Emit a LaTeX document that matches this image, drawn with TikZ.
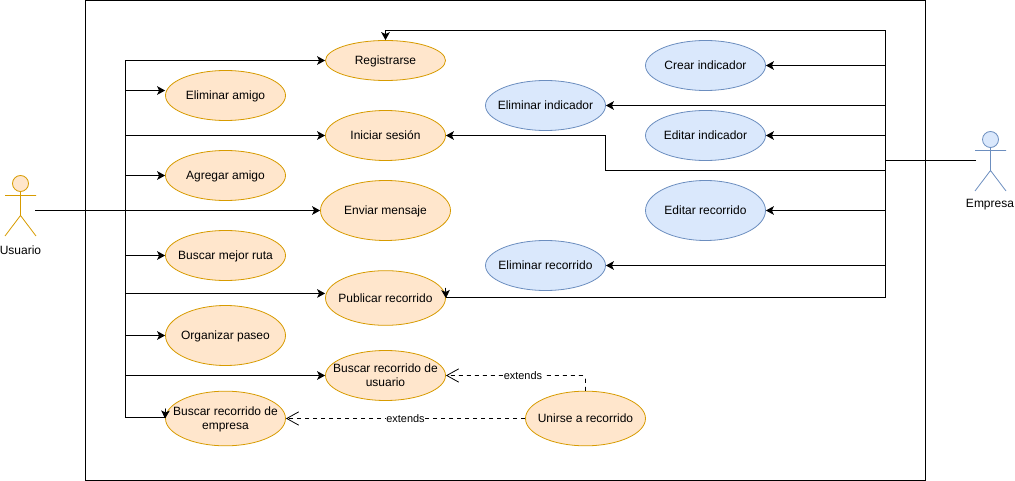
\documentclass[tikz,border=0pt]{standalone}
\usepackage{fontspec}
\setmainfont{Liberation Sans}
\usetikzlibrary{arrows.meta,shapes.geometric}

% Define colors
\definecolor{usofill}{HTML}{FFE6CC}
\definecolor{usoline}{HTML}{D79B00}
\definecolor{empfill}{HTML}{DAE8FC}
\definecolor{empline}{HTML}{6C8EBF}

\tikzset{
  caso/.style={ellipse,draw=usoline,fill=usofill,semithick,align=center,inner xsep=-10pt,inner ysep=0pt,text height=7pt,text depth=1pt,font=\fontsize{9}{10.5}\selectfont},
  casodoble/.style={caso,text height=17.5pt},
  casoemp/.style={caso,draw=empline,fill=empfill},
  flecha/.style={-{Stealth[length=6pt,width=6.5pt,inset=1.5pt]},semithick},
  extiende/.style={-{Straight Barb[length=9pt,width=10pt]},dashed,semithick},
  etiqueta/.style={fill=white,inner sep=0.5pt,font=\fontsize{8.2}{10}\selectfont},
  actorlabel/.style={font=\fontsize{9}{11}\selectfont,inner sep=0pt}
}

\begin{document}
\begin{tikzpicture}[x=0.75pt,y=-0.75pt]
\useasboundingbox (0,0) rectangle (1015,481);

% Frame
\draw[semithick] (85.5,0.5) rectangle (925.5,480.5);

% Usuario
\draw[usoline,fill=usofill,semithick] (20.5,183.5) circle (6pt);
\draw[usoline,semithick] (20.5,191.5) -- (20.5,215.5) (5,195.5) -- (36,195.5) (5,236) -- (20.5,215.5) -- (36,236);
\node[actorlabel] (usuario) at (20.5,250) {Usuario};
\coordinate (usuarioport) at (35,210.5);

% Empresa
\draw[empline,fill=empfill,semithick] (990.5,139.5) circle (6pt);
\draw[empline,semithick] (990.5,147.5) -- (990.5,170.5) (975,150.5) -- (1006,150.5) (975,191) -- (990.5,170.5) -- (1006,191);
\node[actorlabel] (empresa) at (990,205) {Empresa};
\coordinate (empresaport) at (976,160.5);

% Left use cases
\node[caso,minimum width=90pt,minimum height=30pt] (registrarse) at (385.5,60.5) {Registrarse};
\node[caso,minimum width=90pt,minimum height=37.5pt] (eliminaramigo) at (225.5,95.5) {Eliminar amigo};
\node[caso,minimum width=90pt,minimum height=37.5pt] (iniciar) at (385.5,135.5) {Iniciar sesión};
\node[caso,minimum width=90pt,minimum height=37.5pt] (agregar) at (225.5,175.5) {Agregar amigo};
\node[caso,minimum width=97.5pt,minimum height=45pt] (enviar) at (385.5,210.5) {Enviar mensaje};
\node[caso,minimum width=90pt,minimum height=37.5pt] (mejorruta) at (225.5,255.5) {Buscar mejor ruta};
\node[caso,minimum width=90pt,minimum height=41pt] (publicar) at (385.5,298) {Publicar recorrido};
\node[caso,minimum width=90pt,minimum height=45pt] (organizar) at (225.5,335.5) {Organizar paseo};
\node[casodoble,minimum width=90pt,minimum height=37.5pt] (buscarusuario) at (385.5,375.5) {Buscar recorrido de\\usuario};
\node[casodoble,minimum width=90pt,minimum height=41pt] (buscarempresa) at (225.5,418.5) {Buscar recorrido de\\empresa};
\node[caso,minimum width=90pt,minimum height=41pt] (unirse) at (585.5,418.5) {Unirse a recorrido};

% Right use cases
\node[casoemp,minimum width=90pt,minimum height=37.5pt] (crear) at (705.5,65.5) {Crear indicador};
\node[casoemp,minimum width=90pt,minimum height=37.5pt] (eliminarind) at (545.5,105.5) {Eliminar indicador};
\node[casoemp,minimum width=90pt,minimum height=37.5pt] (editarind) at (705.5,135.5) {Editar indicador};
\node[casoemp,minimum width=90pt,minimum height=45pt] (editarrec) at (705.5,210.5) {Editar recorrido};
\node[casoemp,minimum width=90pt,minimum height=37.5pt] (eliminarrec) at (545.5,265.5) {Eliminar recorrido};

% Trunks
\coordinate (trunkizq) at (125.5,60.5);
\coordinate (trunkder) at (885.5,30.5);

% Usuario connectors
\draw[flecha] (usuarioport) -- (enviar.west);
\draw[semithick] (trunkizq) -- (125.5,417.5);
\foreach \caso in {registrarse,iniciar,agregar,mejorruta,organizar,buscarusuario}
  \draw[flecha] (trunkizq |- \caso.west) -- (\caso.west);
\draw[flecha] (125.5,90.5) -- ([yshift=3.75pt]eliminaramigo.west);
\draw[flecha] (125.5,293.5) -- ([yshift=3.4pt]publicar.west);
\draw[semithick] (125.5,417.5) -- (165.5,417.5);
\draw[flecha] (165.5,408.5) -- (buscarempresa.west);

% Empresa connectors
\draw[semithick] (empresaport) -- (trunkder |- empresaport);
\draw[semithick] (trunkder) -- (885.5,297.5);
\foreach \caso in {crear,eliminarind,editarind,editarrec,eliminarrec}
  \draw[flecha] (trunkder |- \caso.east) -- (\caso.east);
\draw[flecha] (trunkder) -- (385.5,30.5) -- (registrarse.north);
\draw[flecha] (885.5,170.5) -- (605.5,170.5) -- (605.5,135.5) -- (iniciar.east);
\draw[semithick] (885.5,297.5) -- (445.5,297.5);
\draw[flecha] (445.5,288) -- (publicar.east);

% Extends
\draw[extiende] (unirse.north) -- (585.5,379) -- (582.5,375.5) -- node[etiqueta,pos=.436] (ext1) {extends} (buscarusuario.east);
\draw[extiende] (unirse.west) -- node[etiqueta] (ext2) {extends} (buscarempresa.east);

\end{tikzpicture}
\end{document}
